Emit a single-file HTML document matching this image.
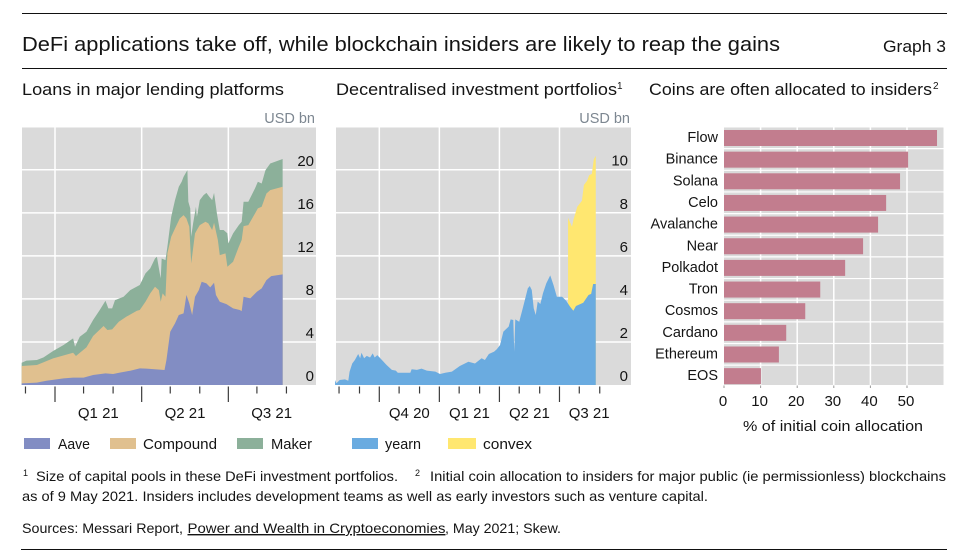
<!DOCTYPE html>
<html lang="en">
<head>
<meta charset="utf-8">
<title>DeFi applications take off</title>
<style>
html,body{margin:0;padding:0;background:#fff;width:973px;height:559px;overflow:hidden}
svg{display:block}
text{font-family:"Liberation Sans",sans-serif;fill:#141414}
</style>
</head>
<body>
<svg id="graph" xmlns="http://www.w3.org/2000/svg" width="973" height="559" viewBox="0 0 973 559">
  <rect x="22" y="13" width="925" height="1" fill="#111"/>
  <rect x="22" y="68" width="925" height="1" fill="#111"/>
  <rect x="21" y="549" width="926" height="1" fill="#111"/>
  <text x="22" y="51" font-size="20.5" textLength="758" lengthAdjust="spacingAndGlyphs">DeFi applications take off, while blockchain insiders are likely to reap the gains</text>
  <text x="883" y="52" font-size="16.5" textLength="63" lengthAdjust="spacingAndGlyphs">Graph 3</text>

  <text x="22" y="95" font-size="16.5" textLength="262" lengthAdjust="spacingAndGlyphs">Loans in major lending platforms</text>
  <text x="336" y="95" font-size="16.5" textLength="281" lengthAdjust="spacingAndGlyphs">Decentralised investment portfolios</text>
  <text x="617" y="89" font-size="10">1</text>
  <text x="649" y="95" font-size="16.5" textLength="283" lengthAdjust="spacingAndGlyphs">Coins are often allocated to insiders</text>
  <text x="933" y="89" font-size="10">2</text>

  <text x="315" y="123" font-size="14.5" text-anchor="end" style="fill:#7d8791">USD bn</text>
  <text x="630" y="123" font-size="14.5" text-anchor="end" style="fill:#7d8791">USD bn</text>

  <g id="panel1"></g>
  <g id="panel2"></g>
  <g id="panel3"></g>

  <g>
    <rect x="24" y="438" width="26" height="11" fill="#828dc3"/>
    <text x="58" y="449" font-size="15" textLength="32" lengthAdjust="spacingAndGlyphs">Aave</text>
    <rect x="110" y="438" width="26" height="11" fill="#e0c08f"/>
    <text x="143" y="449" font-size="15" textLength="74" lengthAdjust="spacingAndGlyphs">Compound</text>
    <rect x="237" y="438" width="26" height="11" fill="#8cb09a"/>
    <text x="271" y="449" font-size="15" textLength="41" lengthAdjust="spacingAndGlyphs">Maker</text>
  </g>
  <g>
    <rect x="352" y="438" width="26" height="11" fill="#6aabe0"/>
    <text x="385" y="449" font-size="15" textLength="36" lengthAdjust="spacingAndGlyphs">yearn</text>
    <rect x="448" y="438" width="28" height="11" fill="#ffe770"/>
    <text x="483" y="449" font-size="15" textLength="49" lengthAdjust="spacingAndGlyphs">convex</text>
  </g>

  <text x="743" y="431" font-size="15" textLength="180" lengthAdjust="spacingAndGlyphs">% of initial coin allocation</text>

  <g font-size="14">
    <text x="23" y="476" font-size="9">1</text>
    <text x="36" y="481" textLength="362" lengthAdjust="spacingAndGlyphs">Size of capital pools in these DeFi investment portfolios.</text>
    <text x="415" y="476" font-size="9">2</text>
    <text x="430" y="481" textLength="516" lengthAdjust="spacingAndGlyphs">Initial coin allocation to insiders for major public (ie permissionless) blockchains</text>
    <text x="22" y="501" textLength="686" lengthAdjust="spacingAndGlyphs">as of 9 May 2021. Insiders includes development teams as well as early investors such as venture capital.</text>
    <text x="22" y="533" textLength="161" lengthAdjust="spacingAndGlyphs">Sources: Messari Report,</text>
    <text x="187.5" y="533" textLength="258" lengthAdjust="spacingAndGlyphs" text-decoration="underline">Power and Wealth in Cryptoeconomies</text>
    <text x="445" y="533" textLength="116" lengthAdjust="spacingAndGlyphs">, May 2021; Skew.</text>
  </g>
</svg>
<script>
// Panel 1: cumulative stack levels in USD bn; days are counted from 1 Jan 2021
const aaveDays = [-35,-19,-9,9,19,30,40,53,61,68,79,89,96,115,117,121,126,130,135,138,141,144,147,151,154,159,163,167,169,173,180,187,194,196,198,205,212,217,222,227,239];
const aaveLevel = [0.15,0.22,0.4,0.62,0.68,0.68,0.93,1.08,1.02,1.15,1.33,1.55,1.52,1.39,2.32,4.95,5.73,6.5,6.66,8.36,7.59,6.5,8.2,8.82,9.6,9.44,9.07,9.5,8.36,7.74,7.52,7.12,6.97,6.87,8.2,8.05,8.67,8.98,9.75,10.12,10.28];
const compoundDays = [-35,-19,-2,19,22,33,40,51,55,60,67,75,86,89,95,100,105,109,111,113,116,118,122,126,131,135,138,141,143,147,149,152,158,161,165,167,171,173,179,181,187,193,196,198,203,210,213,217,222,226,239];
const compoundLevel = [1.76,1.86,2.48,3.0,2.69,3.5,4.55,5.48,5.11,5.17,5.88,6.35,6.9,6.97,7.74,8.51,9.13,8.82,7.74,8.51,8.2,12.23,13.78,14.55,15.48,15.79,15.48,14.71,11.3,14.09,14.4,14.86,15.17,15.02,14.4,15.08,13.47,12.07,12.23,10.99,11.46,12.85,13.47,14.77,14.86,15.94,16.41,16.56,17.8,18.11,18.42];
const makerDays = [-35,-30,-19,-12,-2,9,19,21,26,33,40,47,53,56,60,63,72,79,89,95,100,105,107,110,111,112,116,118,122,126,130,133,135,139,140,142,143,145,148,149,152,156,159,162,165,167,170,173,177,181,182,187,193,196,198,203,210,213,217,221,226,239];
const makerLevel = [2.07,2.26,2.32,2.57,3.16,3.72,4.33,3.56,4.49,4.95,6.04,6.97,7.83,7.12,7.12,7.89,8.2,8.82,9.29,10.37,10.84,11.76,11.92,10.37,9.91,11.76,11.61,12.85,15.63,17.18,18.42,18.89,19.35,19.97,17.03,16.41,13.78,15.02,16.56,15.63,17.18,17.65,17.86,17.49,17.18,17.86,15.94,14.4,14.4,14.09,13.16,14.09,14.86,15.17,17.03,17.03,18.27,18.89,18.73,19.97,20.59,21.0];
const loansValueTicks = [0,4,8,12,16,20];
const loansMonthTicks = [-31,0,30,61,91,121,152,182,212,243];
const loansQuarterTicks = [0,91,182];
const loansQuarterLabels = ["Q1 21","Q2 21","Q3 21"];

// Panel 2: USD bn; days are counted from 1 Oct 2020
const yearnDays = [-67,-65,-60,-52,-47,-45,-41,-37,-32,-29,-27,-23,-19,-14,-10,-7,-3,4,11,19,25,28,47,49,57,64,72,85,92,100,110,122,135,145,155,160,166,174,178,183,188,196,199,203,204.5,206,212,218,225,228,231,234,237,240,244,248,253,259,264,269,277,283,289,294,298,309,317,321,324,328];
const yearnValues = [0.23,0.08,0.23,0.26,0.2,0.62,1.0,1.16,1.44,1.24,1.5,1.24,1.35,1.28,1.47,1.28,1.39,1.16,0.93,0.7,0.67,0.57,0.57,0.73,0.7,0.76,0.67,0.62,0.51,0.57,0.62,0.88,1.08,1.0,1.24,1.16,1.44,1.55,1.66,1.86,2.48,2.71,3.05,3.02,1.55,3.05,2.94,3.64,4.49,4.6,4.41,3.56,3.25,3.87,3.76,4.26,4.72,5.09,4.64,4.1,4.1,3.92,3.64,3.45,3.67,3.82,4.18,4.23,4.69,4.69];
const convexDays = [286,292,294,300,307,310,315,318,322,325,328];
const convexLevel = [7.77,7.35,7.66,8.28,8.56,9.29,9.49,9.75,9.8,10.48,10.65];
const portfolioValueTicks = [0,2,4,6,8,10];
const portfolioMonthTicks = [-61,-30,0,30,61,91,121,152,182,212,243,273,303,334];
const portfolioQuarterTicks = [0,91,182,273];
const portfolioQuarterLabels = ["Q4 20","Q1 21","Q2 21","Q3 21"];

// Panel 3: % of initial coin allocation
const chainNames = ["Flow","Binance","Solana","Celo","Avalanche","Near","Polkadot","Tron","Cosmos","Cardano","Ethereum","EOS"];
const insiderShares = [58.2,50.3,48.1,44.3,42.1,38,33.1,26.3,22.2,17,15,10.1];
const shareTicks = [0,10,20,30,40,50];

const SVGNS = "http://www.w3.org/2000/svg";
function make(parent, tag, props, txt) {
  const el = document.createElementNS(SVGNS, tag);
  for (const k in props) el.setAttribute(k, props[k]);
  if (txt !== undefined) el.textContent = txt;
  parent.appendChild(el);
  return el;
}
function areaPath(days, vals, xf, yf) {
  let d = "M" + xf(days[0]).toFixed(2) + " " + yf(0).toFixed(2);
  for (let i = 0; i < days.length; i++) d += "L" + xf(days[i]).toFixed(2) + " " + yf(vals[i]).toFixed(2);
  return d + "L" + xf(days[days.length - 1]).toFixed(2) + " " + yf(0).toFixed(2) + "Z";
}
const TOP = 127.5, BOTTOM = 385;

function drawFrame(g, left, right, xf, yf, valueTicks, monthTicks, quarterTicks, quarterLabels, labelRight, quarterDays) {
  const bg = make(g, "rect", {x: left, y: TOP, width: right - left, height: BOTTOM - TOP, fill: "#dadada"});
  
  
  valueTicks.forEach(v => {
    if (v === 0) return;
    const line = make(g, "line", {x1: left, x2: right, y1: yf(v), y2: yf(v), stroke: "#fff", "stroke-width": 1.5});
    
    
  });
  quarterTicks.forEach(d => {
    const line = make(g, "line", {x1: xf(d), x2: xf(d), y1: TOP, y2: BOTTOM, stroke: "#fff", "stroke-width": 1.5});
    
    
  });
  monthTicks.forEach(d => {
    const long = quarterTicks.includes(d);
    const tick = make(g, "line", {x1: xf(d), x2: xf(d), y1: 386.5, y2: long ? 402 : 393.5, stroke: "#3c3c3c", "stroke-width": 1.2});
    
    
  });
  quarterLabels.forEach((lab, i) => {
    const t = make(g, "text", {x: xf(quarterDays[i]), y: 418, "font-size": 15, "text-anchor": "middle"}, lab);
    
    
  });
  valueTicks.forEach(v => {
    const t = make(g, "text", {x: labelRight, y: yf(v) - 4, "font-size": 15, "text-anchor": "end"}, String(v));
    
    
  });
}

// Panel 1
(function () {
  const g = document.getElementById("panel1");
  const xf = d => 55 + d * (86.67 / 91);
  const yf = v => BOTTOM - v * 10.76;
  drawFrame(g, 22, 316, xf, yf, loansValueTicks, loansMonthTicks, loansQuarterTicks, loansQuarterLabels, 314, [45.5, 136.5, 227.5]);
  const maker = make(g, "path", {d: areaPath(makerDays, makerLevel, xf, yf), fill: "#8cb09a"});
  
  
  const compound = make(g, "path", {d: areaPath(compoundDays, compoundLevel, xf, yf), fill: "#e0c08f"});
  
  
  const aave = make(g, "path", {d: areaPath(aaveDays, aaveLevel, xf, yf), fill: "#828dc3"});
  
  
})();

// Panel 2
(function () {
  const g = document.getElementById("panel2");
  const xf = d => 379.3 + d * 0.66;
  const yf = v => BOTTOM - v * 21.53;
  drawFrame(g, 336, 631, xf, yf, portfolioValueTicks, portfolioMonthTicks, portfolioQuarterTicks, portfolioQuarterLabels, 628, [45.5, 136.5, 227.5, 318]);
  const convex = make(g, "path", {d: areaPath(convexDays, convexLevel, xf, yf), fill: "#ffe770"});
  
  
  const yearn = make(g, "path", {d: areaPath(yearnDays, yearnValues, xf, yf), fill: "#6aabe0"});
  
  
})();

// Panel 3
(function () {
  const g = document.getElementById("panel3");
  const left = 724, right = 943.5;
  const xf = v => left + v * 3.66;
  const step = 21.65;
  const bandTop = i => 127 + i * step;
  const bg = make(g, "rect", {x: left, y: TOP, width: right - left, height: BOTTOM - TOP, fill: "#dadada"});
  
  
  shareTicks.forEach(v => {
    if (v > 0) {
      const line = make(g, "line", {x1: xf(v), x2: xf(v), y1: TOP, y2: BOTTOM, stroke: "#fff", "stroke-width": 1.5});
      
      
    }
    const tick = make(g, "line", {x1: xf(v), x2: xf(v), y1: 385.5, y2: 388, stroke: "#999", "stroke-width": 1});
    
    
    const t = make(g, "text", {x: xf(v) - 1, y: 406, "font-size": 15, "text-anchor": "middle"}, String(v));
    
    
  });
  chainNames.forEach((name, i) => {
    if (i > 0) {
      const line = make(g, "line", {x1: left, x2: right, y1: bandTop(i), y2: bandTop(i), stroke: "#fff", "stroke-width": 1.2});
      
      
    }
    const bar = make(g, "rect", {x: left, y: bandTop(i) + 3, width: xf(insiderShares[i]) - left, height: 16, fill: "#c27d8e"});
    
    
    const t = make(g, "text", {x: 718, y: bandTop(i) + 15, "font-size": 14.5, "text-anchor": "end"}, name);
    
    
  });
})();
</script>
</body>
</html>
